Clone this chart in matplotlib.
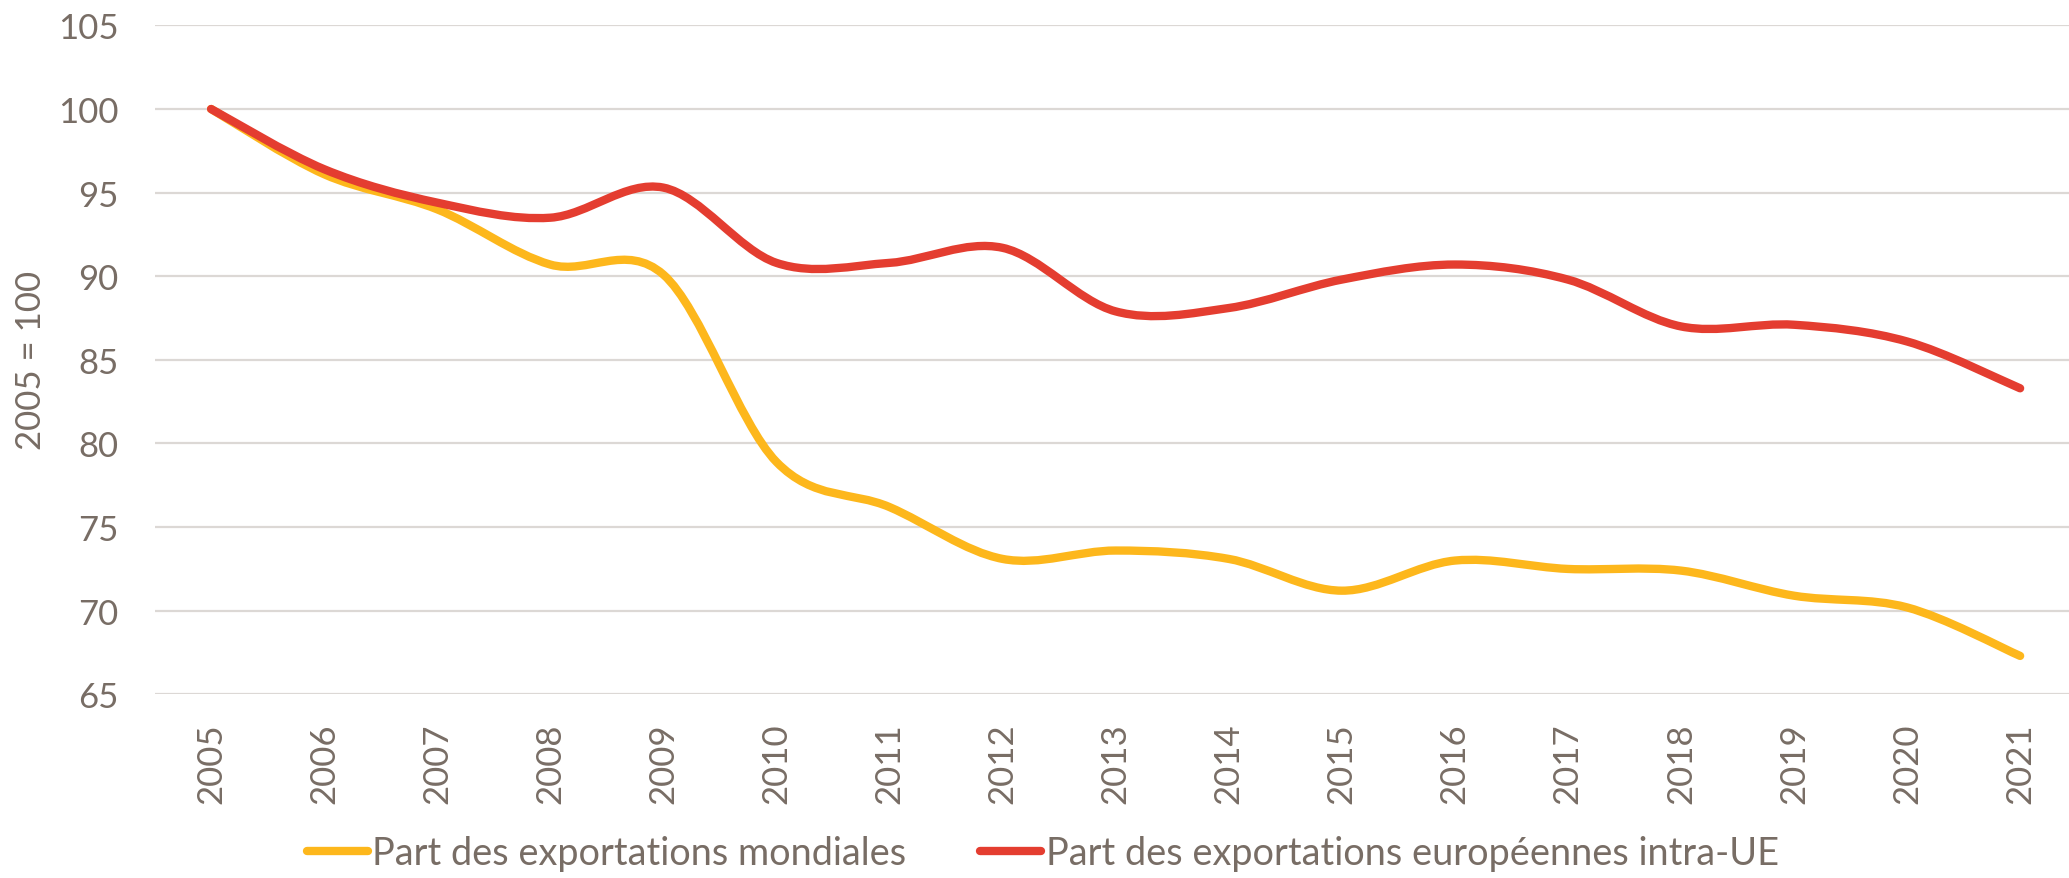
import matplotlib
matplotlib.use("Agg")
import matplotlib.pyplot as plt
from matplotlib.path import Path
from matplotlib.patches import PathPatch
from matplotlib.lines import Line2D

years = [str(y) for y in range(2005, 2022)]
monde = [100, 96.1, 94.0, 90.7, 90.1, 78.9, 76.2, 73.1, 73.6, 73.1,
         71.2, 73.0, 72.5, 72.4, 70.9, 70.2, 67.3]
intra_ue = [100, 96.4, 94.4, 93.5, 95.3, 90.8, 90.8, 91.7, 87.9, 88.1,
            89.8, 90.7, 89.8, 87.0, 87.1, 86.1, 83.3]
labels = ["Part des exportations mondiales",
          "Part des exportations européennes intra-UE"]
colors = ["#FDB71C", "#E43D30"]

TXT = "#786d65"
plt.rcParams['font.family'] = ['Lato', 'DejaVu Sans']


def smooth_path(xs, ys):
    # bezier through every point, like the "smoothed line" option of office charts
    pts = list(zip(xs, ys))
    verts = [pts[0]]
    codes = [Path.MOVETO]
    n = len(pts)
    for i in range(n - 1):
        p0 = pts[max(i - 1, 0)]
        p1 = pts[i]
        p2 = pts[i + 1]
        p3 = pts[min(i + 2, n - 1)]
        c1 = (p1[0] + (p2[0] - p0[0]) / 6, p1[1] + (p2[1] - p0[1]) / 6)
        c2 = (p2[0] - (p3[0] - p1[0]) / 6, p2[1] - (p3[1] - p1[1]) / 6)
        verts += [c1, c2, p2]
        codes += [Path.CURVE4] * 3
    return Path(verts, codes)


fig = plt.figure(figsize=(20.69, 8.79), dpi=100)
ax = fig.add_axes([0.0747, 0.2089, 0.929, 0.7611])

x = list(range(len(years)))
handles = []
for vals, lab, c in zip([monde, intra_ue], labels, colors):
    patch = PathPatch(smooth_path(x, vals), fill=False, edgecolor=c, lw=6,
                      capstyle='round', joinstyle='round', zorder=3)
    ax.add_patch(patch)
    handles.append(Line2D([], [], color=c, lw=6, solid_capstyle='round', label=lab))

ax.set_xlim(-0.5, len(years) - 0.5)
ax.set_ylim(65, 105)
ax.set_yticks(range(65, 106, 5))
ax.set_xticks(x)
ax.set_xticklabels(years, rotation=90)
ax.grid(axis='y', color='#dcd8d5', lw=1.6)
ax.set_axisbelow(True)
for s in ax.spines.values():
    s.set_visible(False)
ax.tick_params(axis='both', length=0, colors=TXT)
ax.tick_params(axis='y', pad=26, labelsize=25)
ax.tick_params(axis='x', pad=20, labelsize=25)
ax.set_ylabel("2005 = 100", color=TXT, fontsize=25)
ax.yaxis.set_label_coords(-0.056, 0.5)

fig.legend(handles=handles, loc='center', bbox_to_anchor=(0.504, 0.028), ncol=2,
           frameon=False, fontsize=27.3, labelcolor=TXT, handlelength=1.6,
           handletextpad=0.12, columnspacing=1.95)

fig.savefig("out.png", dpi=100)
